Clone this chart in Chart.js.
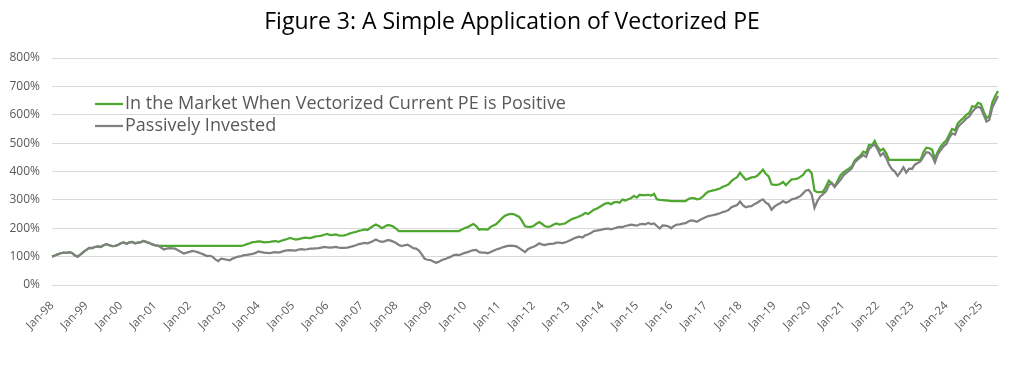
<!DOCTYPE html>
<html><head><meta charset="utf-8">
<script src="https://cdn.jsdelivr.net/npm/chart.js@4.4.0/dist/chart.umd.min.js"></script>
<style>html,body{margin:0;padding:0;background:#fff;overflow:hidden}#wrap{width:1024px;height:378px;position:relative}</style>
</head><body><div id="wrap"><canvas id="c" width="1024" height="378"></canvas></div>
<script>
const titleText = 'Figure 3: A Simple Application of Vectorized PE';
const seriesNames = ['In the Market When Vectorized Current PE is Positive', 'Passively Invested'];
const monthNames = ['Jan','Feb','Mar','Apr','May','Jun','Jul','Aug','Sep','Oct','Nov','Dec'];
const yearNames = ['98','99','00','01','02','03','04','05','06','07','08','09','10','11','12','13','14','15','16','17','18','19','20','21','22','23','24','25'];
const yTickValues = [0,100,200,300,400,500,600,700,800];

const vectorizedPE = [
100,104,108,112,114,113,116,113,104,100,108,117,
124,131,130,134,136,134,140,144,140,137,138,141,
147,150,145,150,152,147,149,151,155,151,148,143,
140,138,138,138,138,138,138,138,138,138,138,138,
138,138,138,138,138,138,138,138,138,138,138,138,
138,138,138,138,138,138,138,140,144,147,151,
152,154,153,150,151,152,154,155,152,156,159,162,
166,163,160,162,164,167,166,165,168,171,172,174,
177,180,176,177,178,175,174,175,178,182,185,187,
191,193,196,194,201,208,213,208,200,205,211,210,
206,199,190,190,190,190,190,190,190,190,190,190,
190,190,190,190,190,190,190,190,190,190,190,190,
196,201,204,210,215,208,195,197,196,195,205,210,
215,225,236,244,248,251,250,245,240,225,207,205,
205,208,216,222,215,207,205,207,213,217,213,
215,217,224,230,235,238,242,247,254,250,258,265,
269,275,281,287,289,285,291,293,290,301,298,302,
306,314,308,318,317,317,318,315,321,302,300,299,
298,297,296,296,296,296,296,296,303,306,306,302,
304,311,322,329,332,334,337,340,346,350,355,366,
374,380,396,383,371,375,379,380,385,395,407,392,
383,355,353,353,356,363,352,362,372,373,375,381,
388,402,406,394,332,327,327,329,347,368,358,348,
366,386,396,404,410,418,438,448,456,470,465,494,
492,508,486,474,480,465,441,441,441,441,441,
441,441,441,441,441,441,441,468,484,482,477,445,
470,488,500,510,530,550,545,570,580,589,600,606,
630,628,642,638,612,588,596,643,665,684
];

const passive = [
100,104,108,112,114,113,116,113,104,100,108,117,
124,131,130,134,136,134,140,144,140,137,138,141,
147,150,145,150,152,147,149,151,155,151,148,143,
140,139,132,125,128,130,129,128,122,116,111,114,
117,120,118,115,111,107,102,103,100,90,84,93,
91,89,87,93,97,100,102,105,106,108,110,
113,118,116,114,113,112,115,116,114,117,120,122,
123,122,121,125,126,125,126,128,128,129,130,132,
134,133,132,133,134,132,131,131,132,134,137,140,
144,146,148,147,150,155,160,155,152,154,158,157,
153,148,141,137,140,142,137,130,128,121,108,92,
89,88,83,78,82,88,91,95,99,105,107,105,
109,113,116,120,123,124,116,114,114,112,116,121,
125,128,132,135,138,139,138,136,130,123,116,126,
131,135,140,147,142,141,144,145,146,149,149,
148,150,154,159,164,168,170,167,175,178,183,190,
192,193,196,198,199,196,199,202,205,204,208,210,
213,211,209,214,215,214,219,215,217,208,199,210,
209,207,200,208,213,214,216,218,224,228,226,223,
229,234,239,243,245,247,250,253,257,260,264,274,
278,282,294,281,274,277,278,285,290,297,302,290,
284,265,276,283,288,296,290,294,302,304,308,313,
323,333,335,320,272,296,312,320,330,352,360,345,
358,370,385,394,402,411,432,442,450,458,452,479,
489,495,478,456,465,448,424,408,400,385,398,
415,396,410,409,424,430,436,452,468,466,455,432,
460,475,489,497,518,534,530,556,567,576,587,594,
610,622,628,624,600,576,582,625,646,666
];

const categories = [];
for (const y of yearNames) for (const m of monthNames) {
  if (categories.length < passive.length) categories.push(m + '-' + y);
}

const FONT = "'Open Sans', 'Liberation Sans', sans-serif";
const GREEN = '#4EA72E';
const GRAY = '#808080';
const TXT = '#595959';

const overlay = {
  id: 'overlay',
  afterDraw(chart) {
    const ctx = chart.ctx;
    ctx.save();
    ctx.fillStyle = '#000';
    ctx.font = '23px ' + FONT;
    ctx.textAlign = 'center';
    ctx.textBaseline = 'middle';
    ctx.fillText(titleText, 512, 22);
    const rows = [104, 126];
    chart.data.datasets.forEach((ds, i) => {
      const y = rows[i];
      ctx.strokeStyle = ds.borderColor;
      ctx.lineWidth = 2.25;
      ctx.beginPath(); ctx.moveTo(95, y); ctx.lineTo(123, y); ctx.stroke();
      ctx.fillStyle = TXT;
      ctx.font = '18px ' + FONT;
      ctx.textAlign = 'left';
      ctx.textBaseline = 'middle';
      ctx.fillText(ds.label, 125, y);
    });
    ctx.restore();
  }
};

new Chart(document.getElementById('c'), {
  type: 'line',
  data: {
    labels: categories,
    datasets: [
      { label: seriesNames[0], data: vectorizedPE, borderColor: GREEN, borderWidth: 2.25, pointRadius: 0, tension: 0, fill: false, order: 1 },
      { label: seriesNames[1], data: passive, borderColor: GRAY, borderWidth: 2.25, pointRadius: 0, tension: 0, fill: false, order: 0 }
    ]
  },
  options: {
    responsive: false,
    animation: false,
    devicePixelRatio: 1,
    layout: { padding: { top: 58, right: 26, left: 0, bottom: 0 } },
    plugins: { legend: { display: false }, tooltip: { enabled: false }, title: { display: false } },
    scales: {
      x: {
        type: 'category',
        offset: false,
        grid: { display: false },
        border: { display: false },
        afterFit(s) { s.height = 93; },
        ticks: {
          autoSkip: false, minRotation: 45, maxRotation: 45, padding: 6,
          color: TXT, font: { family: FONT, size: 11.5 },
          callback(v) { const l = this.getLabelForValue(v); return l.startsWith('Jan') ? l : null; }
        }
      },
      y: {
        min: 0, max: 800,
        afterFit(s) { s.width = 52; },
        afterBuildTicks(s) { s.ticks = yTickValues.map(v => ({ value: v })); },
        grid: { color: '#d9d9d9', lineWidth: 1, drawTicks: false },
        border: { display: false },
        ticks: { padding: 12, color: TXT, font: { family: FONT, size: 12 }, callback: v => v + '%' }
      }
    }
  },
  plugins: [overlay]
});
</script></body></html>
